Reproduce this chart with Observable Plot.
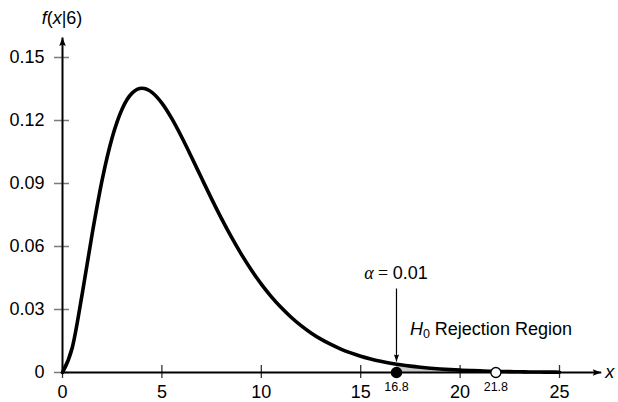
<!DOCTYPE html>
<html><head><meta charset="utf-8">
<script src="https://cdn.jsdelivr.net/npm/d3@7"></script>
<script src="https://cdn.jsdelivr.net/npm/@observablehq/plot@0.6"></script>
<style>body{margin:0;background:#fff} svg{display:block}</style>
</head><body><div id="chart"></div>
<script>
// density values
const xs = [0,0.5,1,1.5,2,2.5,3,3.5,4,4.5,5,5.5,6,6.5,7,7.5,8,8.5,9,9.5,10,10.5,11,11.5,12,12.5,13,13.5,14,14.5,15,15.5,16,16.5,16.8,17,17.5,18,18.5,19,19.5,20,20.5,21,21.5,21.8,22,22.5,23,23.5,24,24.5,25];
const fx = [0,0.01217,0.03791,0.06643,0.09197,0.11192,0.12551,0.13305,0.13534,0.13340,0.12826,0.12086,0.11202,0.10239,0.09248,0.08268,0.07326,0.06441,0.05624,0.04880,0.04211,0.03616,0.03091,0.02631,0.02231,0.01885,0.01588,0.01334,0.01117,0.00933,0.00778,0.00647,0.00537,0.00445,0.00397,0.00368,0.00303,0.00250,0.00206,0.00169,0.00139,0.00114,0.00093,0.00076,0.00062,0.00055,0.00051,0.00041,0.00033,0.00027,0.00022,0.00018,0.00015];
const xTicks = [0,5,10,15,20,25];
const xTickLabels = ["0","5","10","15","20","25"];
const yTicks = [0,0.03,0.06,0.09,0.12,0.15];
const yTickLabels = ["0","0.03","0.06","0.09","0.12","0.15"];
const criticalValue = 16.8;
const criticalLabel = "16.8";
const observedValue = 21.8;
const observedLabel = "21.8";
const alphaText = "0.01";
const regionText = " Rejection Region";
const yLabelDf = "6";
const xAxisEnd = 27.1;
const yAxisEnd = 0.1595;
const pointerTop = 0.04;
const pointerTip = 0.0052;
const regionLabelX = 17.5;
const regionLabelY = 0.0176;

const curve = xs.map((x, i) => ({x, y: fx[i]}));
const tail = curve.filter(d => d.x >= criticalValue);
const sans = "'Liberation Sans', Arial, Helvetica, sans-serif";
const serif = "'Liberation Serif', 'DejaVu Serif', serif";
const fs = 18;

const arrowUp = {draw(c){ c.moveTo(0,0); c.lineTo(3.3,8.5); c.lineTo(0,7); c.lineTo(-3.3,8.5); c.closePath(); }};
const arrowRight = {draw(c){ c.moveTo(0,0); c.lineTo(-8.5,3.3); c.lineTo(-7,0); c.lineTo(-8.5,-3.3); c.closePath(); }};
const arrowDown = {draw(c){ c.moveTo(0,0); c.lineTo(2.6,-7); c.lineTo(0,-6); c.lineTo(-2.6,-7); c.closePath(); }};

const plot = Plot.plot({
  width: 618, height: 402,
  marginLeft: 62, marginRight: 59, marginTop: 57, marginBottom: 30,
  x: {domain: [0, 25], axis: null},
  y: {domain: [0, 0.15], axis: null},
  style: {fontFamily: sans, fontSize: fs + "px", background: "#fff", overflow: "visible"},
  marks: [
    Plot.areaY(tail, {x: "x", y: "y", fill: "#c9c9c9", curve: "monotone-x"}),
    Plot.ruleY(yTicks, {x1: 0, x2: 0, insetLeft: -8, insetRight: -7, stroke: "#7a7a7a", strokeWidth: 1.5}),
    Plot.ruleX(xTicks, {y1: 0, y2: 0, insetTop: -7, insetBottom: -6, stroke: "#333", strokeWidth: 1.3}),
    Plot.link([{x1: 0, y1: 0, x2: xAxisEnd, y2: 0}], {x1: "x1", y1: "y1", x2: "x2", y2: "y2", stroke: "#000", strokeWidth: 2}),
    Plot.link([{x1: 0, y1: 0, x2: 0, y2: yAxisEnd}], {x1: "x1", y1: "y1", x2: "x2", y2: "y2", stroke: "#000", strokeWidth: 2}),
    Plot.dot([{x: 0, y: yAxisEnd}], {x: "x", y: "y", symbol: arrowUp, fill: "#000", stroke: "none"}),
    Plot.dot([{x: xAxisEnd, y: 0}], {x: "x", y: "y", symbol: arrowRight, fill: "#000", stroke: "none"}),
    Plot.line(curve, {x: "x", y: "y", stroke: "#000", strokeWidth: 3.6, curve: "monotone-x"}),
    Plot.link([{x1: criticalValue, y1: pointerTop, x2: criticalValue, y2: pointerTip}], {x1: "x1", y1: "y1", x2: "x2", y2: "y2", stroke: "#000", strokeWidth: 1.2}),
    Plot.dot([{x: criticalValue, y: pointerTip}], {x: "x", y: "y", symbol: arrowDown, fill: "#000", stroke: "none"}),
    Plot.dot([{x: criticalValue, y: 0}], {x: "x", y: "y", r: 5, fill: "#000", stroke: "#000"}),
    Plot.dot([{x: observedValue, y: 0}], {x: "x", y: "y", r: 5, fill: "#fff", stroke: "#000", strokeWidth: 1.3}),
    Plot.text(yTicks, {x: 0, y: d => d, text: (d, i) => yTickLabels[i], dx: -18, textAnchor: "end", fill: "#000", fontSize: fs}),
    Plot.text(xTicks, {x: d => d, y: 0, text: (d, i) => xTickLabels[i], dy: 20, fill: "#000", fontSize: fs}),
    Plot.text([criticalValue, observedValue], {x: d => d, y: 0, text: (d, i) => [criticalLabel, observedLabel][i], dy: 14, fill: "#000", fontSize: 12.5})
  ]
});

document.getElementById("chart").appendChild(plot);

// rich annotations positioned with the plot's own scales
const sx = plot.scale("x"), sy = plot.scale("y");
const svg = d3.select(plot);
const g = svg.append("g").attr("fill", "#000").attr("font-family", sans).attr("font-size", fs);

const yl = g.append("text").attr("x", sx.apply(0)).attr("y", sy.apply(yAxisEnd) - 13).attr("text-anchor", "middle");
yl.append("tspan").attr("font-style", "italic").text("f");
yl.append("tspan").text("(");
yl.append("tspan").attr("font-style", "italic").text("x");
yl.append("tspan").text("|" + yLabelDf + ")");

g.append("text").attr("x", sx.apply(xAxisEnd) + 9).attr("y", sy.apply(0) + 6)
  .attr("text-anchor", "middle").attr("font-style", "italic").text("x");

const al = g.append("text").attr("x", sx.apply(criticalValue)).attr("y", sy.apply(pointerTop) - 9).attr("text-anchor", "middle");
al.append("tspan").attr("font-family", serif).attr("font-style", "italic").text("α");
al.append("tspan").attr("font-family", serif).text(" = ");
al.append("tspan").text(alphaText);

const rl = g.append("text").attr("x", sx.apply(regionLabelX)).attr("y", sy.apply(regionLabelY)).attr("text-anchor", "start");
rl.append("tspan").attr("font-style", "italic").text("H");
rl.append("tspan").attr("font-size", 12.5).attr("dy", 3).text("0");
rl.append("tspan").attr("dy", -3).text(regionText);
</script>
</body></html>
